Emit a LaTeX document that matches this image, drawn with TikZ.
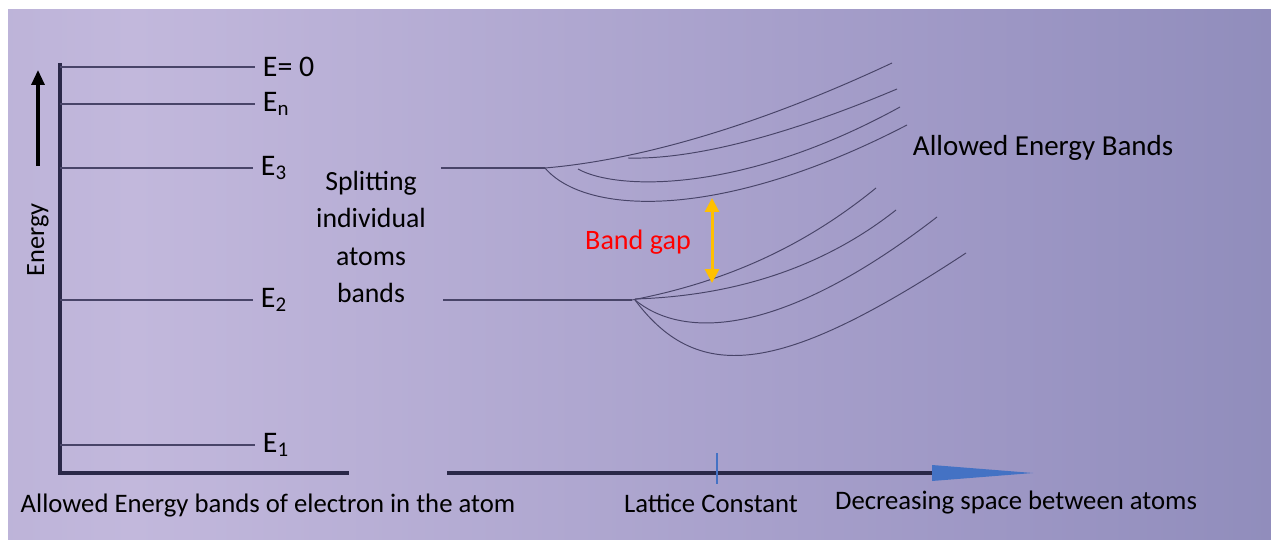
\documentclass[tikz,border=0pt]{standalone}
\usepackage{fontspec}
\setmainfont{Carlito}
\usetikzlibrary{arrows.meta,positioning}
\definecolor{axisnavy}{RGB}{42,40,72}
\definecolor{bandline}{RGB}{72,68,104}
\definecolor{gapgold}{RGB}{255,192,0}
\definecolor{latblue}{RGB}{68,114,196}
\definecolor{gapred}{RGB}{255,0,0}
\definecolor{bgleft}{RGB}{166,158,201}
\definecolor{bgmid}{RGB}{194,184,220}
\definecolor{bgmidr}{RGB}{156,150,196}
\definecolor{bgright}{RGB}{116,119,168}
\pgfdeclarehorizontalshading{plate}{100bp}{color(0bp)=(bgleft); color(30bp)=(bgmid); color(65bp)=(bgmidr); color(100bp)=(bgright)}

\begin{document}
\begin{tikzpicture}[x=0.02cm,y=-0.02cm,
  lvl/.style={draw=bandline,line width=0.7pt},
  band/.style={draw=bandline,line width=0.55pt},
  axis/.style={draw=axisnavy,line width=2.2pt},
  lbl/.style={font=\fontsize{15.2}{21}\selectfont,inner sep=1.5pt},
  lvlname/.style={font=\fontsize{17}{20}\selectfont,inner sep=1.5pt,anchor=west}
]
\useasboundingbox (0,0) rectangle (1271,540);
\shade[shading=plate] (8,10) rectangle (1271,540);

% energy axes of the isolated atom
\coordinate (ytop) at (60,63);
\coordinate (origin) at (60,473);
\coordinate (xend) at (349,473);
\draw[axis] (ytop) -- (origin) -- (xend);
\coordinate (ebase) at (38,166);
\coordinate (etip) at (38,70);
\draw[black,line width=1.8pt,-{Triangle[length=0.3cm,width=0.26cm]}] (ebase) -- (etip);
\node[lbl,font=\fontsize{15}{16}\selectfont,rotate=90] (energy) at (38,240) {Energy};

% discrete levels
\node[lvlname] (e0) at (260,67) {E= 0};
\node[lvlname] (en) at (260,104) {E\textsubscript{n}};
\node[lvlname] (e3) at (258,168) {E\textsubscript{3}};
\node[lvlname] (e2) at (258,300) {E\textsubscript{2}};
\node[lvlname] (e1) at (260,445) {E\textsubscript{1}};
\foreach \lv in {e0,en,e3,e2,e1}
  \draw[lvl] ([xshift=-3pt]\lv.west) -- (\lv.west -| origin);

\node[lbl,font=\fontsize{15.8}{21.3}\selectfont,align=center] (split) at (371,237) {Splitting\\individual\\atoms\\bands};

% splitting into bands
\coordinate (upstart) at (441,168);
\coordinate (upsplit) at (545,168);
\coordinate (lostart) at (443,300);
\coordinate (losplit) at (632,300);
\draw[lvl] (upstart) -- (upsplit);
\draw[lvl] (lostart) -- (losplit);

\draw[band] (upsplit) .. controls (640,160) and (760,125) .. (892,63);
\draw[band] (628,158) .. controls (700,160) and (800,130) .. (897,89);
\draw[band] (578,169) .. controls (615,190) and (740,195) .. (900,107);
\draw[band] (upsplit) .. controls (585,215) and (720,222) .. (907,125);

\draw[band] (losplit) .. controls (720,283) and (800,250) .. (876,188);
\draw[band] (635,299) .. controls (730,296) and (820,270) .. (896,210);
\draw[band] (635,300) .. controls (680,337) and (775,342) .. (937,217);
\draw[band] (635,300) .. controls (700,387) and (785,372) .. (966,253);

\node[lbl,font=\fontsize{16.5}{20}\selectfont,anchor=west] (allowed) at (910,148) {Allowed Energy Bands};

% band gap
\coordinate (gaptop) at (712,198);
\coordinate (gapbot) at (712,283);
\draw[gapgold,line width=1.7pt,{Triangle[length=0.28cm,width=0.28cm]}-{Triangle[length=0.28cm,width=0.28cm]}] (gaptop) -- (gapbot);
\node[lbl,font=\fontsize{16}{20}\selectfont,text=gapred] (gap) at (638,242) {Band gap};

% lattice axis
\coordinate (latstart) at (447,473);
\coordinate (latbase) at (932,473);
\coordinate (latend) at (1033,473);
\draw[axis] (latstart) -- (latbase);
\fill[latblue] (932,465) -- (latend) -- (932,481) -- cycle;
\coordinate (lctop) at (717,453);
\coordinate (lcbot) at (717,484);
\draw[latblue,line width=1.5pt] (lctop) -- (lcbot);

\node[lbl] (atomcap) at (268,506) {Allowed Energy bands of electron in the atom};
\node[lbl] (lattice) at (711,503) {Lattice Constant};
\node[lbl] (spacing) at (1016,503) {Decreasing space between atoms};
\end{tikzpicture}
\end{document}
